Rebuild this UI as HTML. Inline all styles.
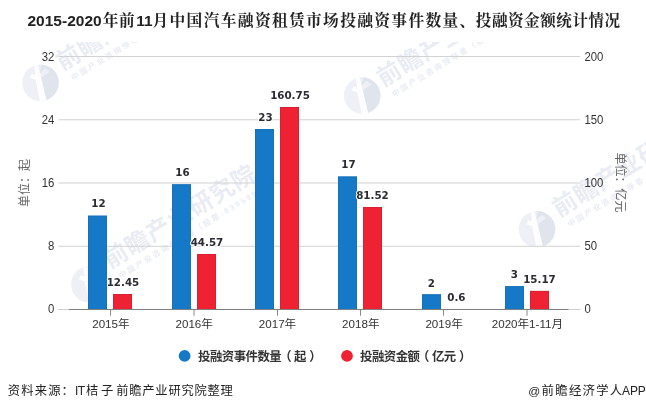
<!DOCTYPE html>
<html lang="zh-CN"><head><meta charset="utf-8"><title>2015-2020年前11月中国汽车融资租赁市场投融资事件数量、投融资金额统计情况</title>
<style>
html,body{margin:0;padding:0;background:#fff;}
body{width:646px;height:411px;overflow:hidden;}
svg{display:block;}
.sans{font-family:"Liberation Sans","Noto Sans CJK SC",sans-serif;}
.title{font-family:"Liberation Sans","Noto Serif CJK SC",serif;font-weight:bold;font-size:15.7px;fill:#222;}
.ax{font-family:"Liberation Sans","Noto Sans CJK SC",sans-serif;font-size:11.6px;fill:#333;}
.ay{font-size:12.2px;}
.val{font-family:"DejaVu Sans","Liberation Sans",sans-serif;font-weight:bold;font-size:10.3px;fill:#2b2b33;stroke:#fff;stroke-width:2px;paint-order:stroke fill;stroke-linejoin:round;}
.unit{font-family:"Liberation Sans","Noto Sans CJK SC",sans-serif;font-size:12px;fill:#666;}
.leg{font-family:"Liberation Sans","Noto Sans CJK SC",sans-serif;font-size:12.4px;letter-spacing:-0.5px;font-weight:bold;fill:#333;}
.foot{font-family:"Liberation Sans","Noto Sans CJK SC",sans-serif;font-size:13.5px;fill:#222;}
.wm{font-family:"Liberation Sans","Noto Sans CJK SC",sans-serif;font-weight:bold;fill:#e9ecf3;}
</style></head><body>
<svg width="646" height="411" viewBox="0 0 646 411">
<rect x="0" y="0" width="646" height="411" fill="#ffffff"/>
<defs><clipPath id="plot"><rect x="0" y="42" width="646" height="300"/></clipPath>
</defs>
<g clip-path="url(#plot)">
<g transform="translate(40.5,82.8)"><circle cx="0" cy="0" r="18.3" fill="#eef0f6"/><path d="M1 -18.3 A18.3 18.3 0 0 1 5.5 17.4 L0.5 -5 L9 -11 L5 -14.5 L-1 -9.5 Z" fill="#e0e4ed"/><path d="M-6.5 -17 L-2.5 -18.1 L6 17.3 L-0.5 18.3 L-5 -3 L-11 -5 L-8.5 -9 L-5 -8 Z" fill="#ffffff" opacity="0.85"/></g>
<g transform="translate(62.5,71) rotate(-31.5)"><text class="wm" x="0" y="0" font-size="24" letter-spacing="0.9" font-weight="900">前瞻产业研究院</text><text class="wm" x="4" y="14" font-size="7.8" letter-spacing="2.1" font-weight="normal">中国产业咨询领导者（股票:839599）</text></g>
<g transform="translate(89.5,284.3)"><circle cx="0" cy="0" r="18.3" fill="#eef0f6"/><path d="M1 -18.3 A18.3 18.3 0 0 1 5.5 17.4 L0.5 -5 L9 -11 L5 -14.5 L-1 -9.5 Z" fill="#e0e4ed"/><path d="M-6.5 -17 L-2.5 -18.1 L6 17.3 L-0.5 18.3 L-5 -3 L-11 -5 L-8.5 -9 L-5 -8 Z" fill="#ffffff" opacity="0.85"/></g>
<g transform="translate(110.0,269.0) rotate(-31.5)"><text class="wm" x="0" y="0" font-size="24" letter-spacing="0.9" font-weight="900">前瞻产业研究院</text><text class="wm" x="4" y="14" font-size="7.8" letter-spacing="2.1" font-weight="normal">中国产业咨询领导者（股票:839599）</text></g>
<g transform="translate(362.2,95.6)"><circle cx="0" cy="0" r="18.3" fill="#eef0f6"/><path d="M1 -18.3 A18.3 18.3 0 0 1 5.5 17.4 L0.5 -5 L9 -11 L5 -14.5 L-1 -9.5 Z" fill="#e0e4ed"/><path d="M-6.5 -17 L-2.5 -18.1 L6 17.3 L-0.5 18.3 L-5 -3 L-11 -5 L-8.5 -9 L-5 -8 Z" fill="#ffffff" opacity="0.85"/></g>
<g transform="translate(383.2,87.3) rotate(-31.5)"><text class="wm" x="0" y="0" font-size="24" letter-spacing="0.9" font-weight="900">前瞻产业研究院</text><text class="wm" x="4" y="14" font-size="7.8" letter-spacing="2.1" font-weight="normal">中国产业咨询领导者（股票:839599）</text></g>
<g transform="translate(537,229.3)"><circle cx="0" cy="0" r="18.3" fill="#eef0f6"/><path d="M1 -18.3 A18.3 18.3 0 0 1 5.5 17.4 L0.5 -5 L9 -11 L5 -14.5 L-1 -9.5 Z" fill="#e0e4ed"/><path d="M-6.5 -17 L-2.5 -18.1 L6 17.3 L-0.5 18.3 L-5 -3 L-11 -5 L-8.5 -9 L-5 -8 Z" fill="#ffffff" opacity="0.85"/></g>
<g transform="translate(559,217.5) rotate(-31.5)"><text class="wm" x="0" y="0" font-size="24" letter-spacing="0.9" font-weight="900">前瞻产业研究院</text><text class="wm" x="4" y="14" font-size="7.8" letter-spacing="2.1" font-weight="normal">中国产业咨询领导者（股票:839599）</text></g>
</g>
<rect x="58.5" y="56.00" width="521.5" height="1" fill="#d2d2d2"/>
<rect x="58.5" y="119.25" width="521.5" height="1" fill="#d2d2d2"/>
<rect x="58.5" y="182.50" width="521.5" height="1" fill="#d2d2d2"/>
<rect x="58.5" y="245.75" width="521.5" height="1" fill="#d2d2d2"/>
<rect x="88" y="215.6" width="19" height="93.9" fill="#1579c7"/>
<rect x="88.5" y="216.1" width="18" height="93.4" fill="none" stroke="#1a67a8" stroke-opacity="0.45" stroke-width="1"/>
<rect x="113" y="294.0" width="19" height="15.5" fill="#ee2232"/>
<rect x="113.5" y="294.5" width="18" height="15.0" fill="none" stroke="#c21f2e" stroke-opacity="0.45" stroke-width="1"/>
<rect x="172" y="184.2" width="19" height="125.3" fill="#1579c7"/>
<rect x="172.5" y="184.7" width="18" height="124.8" fill="none" stroke="#1a67a8" stroke-opacity="0.45" stroke-width="1"/>
<rect x="197" y="254.0" width="19" height="55.5" fill="#ee2232"/>
<rect x="197.5" y="254.5" width="18" height="55.0" fill="none" stroke="#c21f2e" stroke-opacity="0.45" stroke-width="1"/>
<rect x="255" y="129.0" width="19" height="180.5" fill="#1579c7"/>
<rect x="255.5" y="129.5" width="18" height="180.0" fill="none" stroke="#1a67a8" stroke-opacity="0.45" stroke-width="1"/>
<rect x="280" y="107.0" width="19" height="202.5" fill="#ee2232"/>
<rect x="280.5" y="107.5" width="18" height="202.0" fill="none" stroke="#c21f2e" stroke-opacity="0.45" stroke-width="1"/>
<rect x="338" y="176.4" width="19" height="133.1" fill="#1579c7"/>
<rect x="338.5" y="176.9" width="18" height="132.6" fill="none" stroke="#1a67a8" stroke-opacity="0.45" stroke-width="1"/>
<rect x="363" y="207.0" width="19" height="102.5" fill="#ee2232"/>
<rect x="363.5" y="207.5" width="18" height="102.0" fill="none" stroke="#c21f2e" stroke-opacity="0.45" stroke-width="1"/>
<rect x="422" y="294.2" width="19" height="15.3" fill="#1579c7"/>
<rect x="422.5" y="294.7" width="18" height="14.8" fill="none" stroke="#1a67a8" stroke-opacity="0.45" stroke-width="1"/>
<rect x="505" y="286.1" width="19" height="23.4" fill="#1579c7"/>
<rect x="505.5" y="286.6" width="18" height="22.9" fill="none" stroke="#1a67a8" stroke-opacity="0.45" stroke-width="1"/>
<rect x="530" y="290.9" width="19" height="18.6" fill="#ee2232"/>
<rect x="530.5" y="291.4" width="18" height="18.1" fill="none" stroke="#c21f2e" stroke-opacity="0.45" stroke-width="1"/>
<rect x="58" y="309.0" width="522.5" height="1" fill="#cfcfcf"/>
<rect x="68.8" y="309.0" width="499.6" height="1" fill="#808080"/>
<rect x="110" y="310.0" width="1" height="5.7" fill="#8a8a8a"/>
<rect x="193.5" y="310.0" width="1" height="5.7" fill="#8a8a8a"/>
<rect x="277" y="310.0" width="1" height="5.7" fill="#8a8a8a"/>
<rect x="360" y="310.0" width="1" height="5.7" fill="#8a8a8a"/>
<rect x="443" y="310.0" width="1" height="5.7" fill="#8a8a8a"/>
<rect x="526.5" y="310.0" width="1" height="5.7" fill="#8a8a8a"/>
<text class="ax ay" transform="translate(54.3,60.7) scale(0.93,1)" text-anchor="end">32</text>
<text class="ax ay" transform="translate(584.5,60.7) scale(0.93,1)">200</text>
<text class="ax ay" transform="translate(54.3,123.7) scale(0.93,1)" text-anchor="end">24</text>
<text class="ax ay" transform="translate(584.5,123.7) scale(0.93,1)">150</text>
<text class="ax ay" transform="translate(54.3,186.7) scale(0.93,1)" text-anchor="end">16</text>
<text class="ax ay" transform="translate(584.5,186.7) scale(0.93,1)">100</text>
<text class="ax ay" transform="translate(54.3,249.7) scale(0.93,1)" text-anchor="end">8</text>
<text class="ax ay" transform="translate(584.5,249.7) scale(0.93,1)">50</text>
<text class="ax ay" transform="translate(54.3,312.7) scale(0.93,1)" text-anchor="end">0</text>
<text class="ax ay" transform="translate(584.5,312.7) scale(0.93,1)">0</text>
<text class="ax" x="110.9" y="328" text-anchor="middle">2015年</text>
<text class="ax" x="194.2" y="328" text-anchor="middle">2016年</text>
<text class="ax" x="277.5" y="328" text-anchor="middle">2017年</text>
<text class="ax" x="360.8" y="328" text-anchor="middle">2018年</text>
<text class="ax" x="444.1" y="328" text-anchor="middle">2019年</text>
<text class="ax" x="527.4" y="328" text-anchor="middle">2020年1-11月</text>
<text class="val" x="98.4" y="207.3" text-anchor="middle">12</text>
<text class="val" x="123.0" y="285.9" text-anchor="middle">12.45</text>
<text class="val" x="182.4" y="175.9" text-anchor="middle">16</text>
<text class="val" x="207.0" y="245.9" text-anchor="middle">44.57</text>
<text class="val" x="265.4" y="120.7" text-anchor="middle">23</text>
<text class="val" x="290.0" y="98.9" text-anchor="middle">160.75</text>
<text class="val" x="348.4" y="168.1" text-anchor="middle">17</text>
<text class="val" x="372.5" y="198.9" text-anchor="middle">81.52</text>
<text class="val" x="431.4" y="286.6" text-anchor="middle">2</text>
<text class="val" x="456.4" y="300.6" text-anchor="middle">0.6</text>
<text class="val" x="514.3" y="277.8" text-anchor="middle">3</text>
<text class="val" x="539.5" y="282.8" text-anchor="middle">15.17</text>
<text class="unit" transform="translate(28.5,183) rotate(-90)" text-anchor="middle">单位：起</text>
<text class="unit" transform="translate(616,182.5) rotate(90)" text-anchor="middle">单位：亿元</text>
<circle cx="184.6" cy="355.9" r="5.9" fill="#1579c7"/>
<text class="leg" y="360.6"><tspan x="198.0">投融资事件数量</tspan><tspan x="279.2">（</tspan><tspan x="294.0">起</tspan><tspan x="309.2">）</tspan></text>
<circle cx="347.0" cy="355.9" r="5.9" fill="#ee2232"/>
<text class="leg" y="360.6"><tspan x="360.0">投融资金额</tspan><tspan x="417.0">（</tspan><tspan x="431.9">亿元</tspan><tspan x="459.0">）</tspan></text>
<text class="title" y="26"><tspan x="27.5" font-size="15.5">2015-2020</tspan><tspan x="102.8 119.1">年前</tspan><tspan x="136.3" font-size="15.5">11</tspan><tspan x="152.5 169.6 186.6 203.7 220.7 237.8 254.9 271.9 289.0 306.0 323.1 340.2 357.2 374.3 391.3 408.4 425.5 442.5 459.6">月中国汽车融资租赁市场投融资事件数量、</tspan><tspan x="475.8 491.9 508.0 524.1 540.2 556.3 572.4 588.5 604.6" font-size="15.5">投融资金额统计情况</tspan></text>
<text class="foot" y="394.6"><tspan x="7.80 21.25 34.70 48.15 61.60" font-size="12.3">资料来源：</tspan><tspan x="75.1 77.7" font-size="12">IT</tspan><tspan x="86.0 101.1" font-size="12.3">桔子</tspan><tspan font-size="6"> </tspan><tspan x="116.20 129.25 142.30 155.35 168.40 181.45 194.50 207.55 220.60" font-size="12.3">前瞻产业研究院整理</tspan></text>
<text class="foot" y="394.8"><tspan x="528.2" font-size="11.8">@</tspan><tspan x="541.5 555.2 568.9 582.6 596.3 609.8" font-size="12.4">前瞻经济学人</tspan><tspan x="622.0 630.0 637.7" font-size="12">APP</tspan></text>
</svg>
</body></html>
